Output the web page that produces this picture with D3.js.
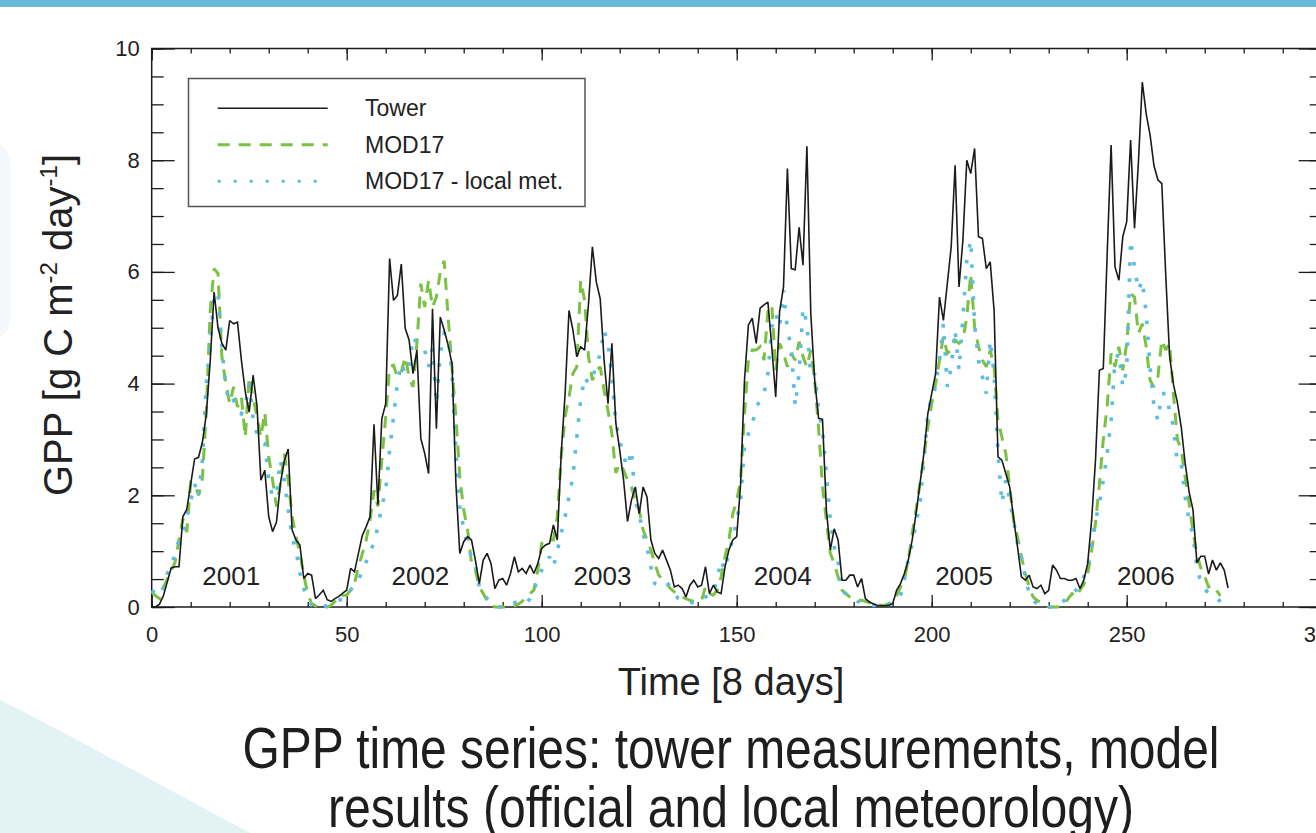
<!DOCTYPE html>
<html>
<head>
<meta charset="utf-8">
<title>GPP time series</title>
<script src="https://cdn.jsdelivr.net/npm/d3@7"></script>
<style>
  html, body { margin: 0; padding: 0; background: #fff; overflow: hidden; }
  svg { display: block; font-family: "Liberation Sans", Arial, Helvetica, sans-serif; }
</style>
</head>
<body>
<svg id="chart" width="1316" height="833"></svg>
<script>
// GPP [g C m-2 day-1], one value per 8-day step (index = time step)
const tower = [
  0.0, 0.0, 0.05, 0.2, 0.45, 0.7, 0.72, 0.72, 1.62, 1.75,
  2.2, 2.65, 2.68, 2.95, 3.45, 4.4, 5.64, 5.0, 4.72, 4.6,
  5.13, 5.07, 5.1, 4.42, 3.85, 3.49, 4.15, 3.6, 2.27, 2.45,
  1.62, 1.35, 1.52, 2.21, 2.62, 2.83, 1.38, 1.2, 1.11, 0.51,
  0.6, 0.57, 0.15, 0.22, 0.3, 0.13, 0.1, 0.15, 0.19, 0.25,
  0.3, 0.69, 0.63, 0.96, 1.28, 1.44, 1.62, 3.27, 1.83, 3.37,
  3.64, 6.24, 5.49, 5.58, 6.14, 4.99, 4.78, 4.18, 4.6, 3.02,
  2.75, 2.39, 5.34, 3.19, 5.19, 4.96, 4.69, 4.36, 2.21, 0.96,
  1.17, 1.26, 1.2, 0.84, 0.42, 0.84, 0.96, 0.78, 0.33, 0.48,
  0.51, 0.39, 0.6, 0.9, 0.63, 0.69, 0.6, 0.75, 0.6, 0.78,
  1.05, 1.11, 1.14, 1.47, 1.2, 2.75, 3.82, 5.31, 4.96, 4.48,
  4.66, 4.6, 5.43, 6.45, 5.82, 5.52, 4.42, 3.64, 4.72, 3.3,
  2.81, 2.27, 1.53, 1.91, 2.15, 1.67, 2.15, 1.97, 1.2, 0.96,
  0.87, 1.02, 0.84, 0.66, 0.36, 0.39, 0.33, 0.18, 0.39, 0.48,
  0.36, 0.39, 0.72, 0.24, 0.39, 0.27, 0.24, 0.72, 1.02, 1.2,
  1.26, 2.2, 4.06, 5.05, 5.17, 4.72, 5.35, 5.41, 5.46, 4.65,
  3.76, 5.29, 5.73, 7.85, 6.06, 6.04, 6.8, 6.12, 8.25, 5.25,
  4.06, 3.38, 3.36, 1.73, 1.02, 1.4, 1.2, 0.48, 0.48, 0.57,
  0.57, 0.36, 0.51, 0.15, 0.09, 0.06, 0.03, 0.02, 0.02, 0.03,
  0.06, 0.3, 0.42, 0.6, 0.84, 1.2, 1.68, 2.21, 2.75, 3.46,
  3.82, 4.18, 5.55, 5.13, 5.79, 6.45, 7.91, 5.73, 6.57, 8.0,
  7.76, 8.21, 6.63, 6.6, 6.06, 6.18, 5.31, 2.69, 2.63, 2.39,
  2.15, 1.59, 1.08, 0.54, 0.48, 0.57, 0.36, 0.33, 0.39, 0.24,
  0.3, 0.75, 0.66, 0.51, 0.51, 0.48, 0.48, 0.51, 0.33, 0.48,
  0.78, 1.55, 2.63, 4.24, 4.27, 6.33, 8.27, 6.09, 5.85, 6.63,
  6.9, 8.36, 6.78, 7.96, 9.4, 8.83, 8.45, 7.9, 7.65, 7.58,
  5.96, 4.49, 3.98, 3.66, 3.21, 2.57, 2.06, 1.74, 0.79, 0.91,
  0.91, 0.59, 0.84, 0.66, 0.79, 0.66, 0.34
];

const mod17 = [
  0.27, 0.2, 0.15, 0.35, 0.5, 0.65, 0.8, 1.2, 1.58, 1.34,
  2.23, 2.2, 2.0, 2.3, 3.5, 5.3, 6.06, 5.97, 4.48, 4.0,
  3.64, 3.94, 3.58, 3.76, 3.04, 4.12, 3.76, 3.4, 3.04, 3.49,
  2.69, 2.27, 1.8, 2.21, 2.75, 2.27, 1.62, 1.26, 0.96, 0.57,
  0.24, 0.06, 0.02, 0.0, 0.0, 0.0, 0.03, 0.1, 0.21, 0.21,
  0.21, 0.3, 0.42, 0.72, 0.95, 1.2, 1.56, 2.09, 1.8, 2.63,
  3.4, 4.3, 4.33, 4.12, 4.21, 4.48, 4.12, 3.94, 4.72, 5.79,
  5.37, 5.85, 5.37, 5.55, 6.0, 6.2, 5.2, 4.3, 3.4, 2.33,
  1.74, 1.38, 0.78, 0.66, 0.36, 0.24, 0.12, 0.03, 0.0, 0.0,
  0.0, 0.0, 0.0, 0.02, 0.05, 0.1, 0.18, 0.24, 0.3, 0.66,
  1.14, 1.2, 1.2, 1.2, 1.62, 2.69, 3.4, 3.76, 4.18, 4.3,
  5.85, 5.49, 4.48, 4.06, 4.24, 4.3, 3.88, 3.52, 3.1, 2.4,
  2.57, 2.45, 2.27, 2.15, 1.91, 1.73, 1.38, 1.2, 1.02, 0.78,
  0.57, 0.5, 0.42, 0.33, 0.27, 0.2, 0.18, 0.15, 0.12, 0.1,
  0.09, 0.12, 0.36, 0.24, 0.21, 0.3, 0.54, 0.9, 1.2, 1.67,
  1.91, 2.27, 3.46, 4.42, 4.6, 4.6, 4.66, 4.42, 5.29, 5.41,
  4.24, 4.72, 4.54, 4.3, 4.54, 4.42, 4.75, 4.48, 4.3, 4.6,
  4.06, 3.2, 2.15, 1.55, 0.96, 0.78, 0.54, 0.3, 0.24, 0.18,
  0.15, 0.12, 0.12, 0.1, 0.08, 0.06, 0.04, 0.03, 0.03, 0.06,
  0.1, 0.2, 0.36, 0.5, 0.84, 1.32, 1.74, 2.21, 2.69, 3.22,
  3.64, 4.0, 4.42, 4.84, 4.54, 4.6, 4.78, 4.72, 4.78, 5.19,
  5.97, 5.01, 4.66, 4.42, 4.3, 4.6, 4.3, 3.34, 3.04, 2.75,
  2.15, 1.55, 1.26, 0.9, 0.6, 0.36, 0.18, 0.12, 0.09, 0.03,
  0.0, 0.0, 0.0, 0.0, 0.05, 0.15, 0.24, 0.18, 0.3, 0.4,
  0.6, 1.0, 1.5, 2.2, 3.0, 3.6, 4.54, 4.3, 4.66, 4.24,
  4.72, 5.61, 5.55, 4.9, 5.07, 4.66, 4.06, 3.94, 4.12, 4.78,
  4.6, 4.72, 3.8, 3.0, 2.82, 2.31, 1.86, 1.35, 0.94, 0.7,
  0.55, 0.36, 0.39, 0.3, 0.2
];

const mod17Local = [
  0.3, 0.25, 0.2, 0.35, 0.6, 0.72, 0.96, 1.2, 1.32, 1.62,
  1.9, 2.21, 1.97, 2.63, 4.0, 4.66, 5.61, 5.61, 4.66, 3.94,
  3.64, 3.7, 3.52, 3.46, 3.61, 4.0, 3.37, 3.1, 2.96, 2.93,
  2.27, 1.97, 2.03, 2.63, 2.27, 1.74, 1.26, 1.02, 0.6, 0.33,
  0.15, 0.03, 0.0, 0.0, 0.0, 0.03, 0.06, 0.1, 0.12, 0.15,
  0.18, 0.3, 0.42, 0.48, 0.65, 0.81, 1.0, 1.14, 1.44, 1.8,
  2.09, 2.81, 3.4, 4.0, 4.36, 4.18, 4.24, 4.84, 4.72, 4.66,
  4.6, 4.3, 4.63, 3.64, 4.54, 4.9, 4.84, 4.2, 2.8, 1.8,
  1.4, 1.1, 0.9, 0.72, 0.36, 0.24, 0.15, 0.08, 0.03, 0.0,
  0.0, 0.03, 0.06, 0.08, 0.09, 0.08, 0.06, 0.15, 0.3, 0.5,
  0.66, 0.8, 0.9, 0.72, 1.0, 1.32, 1.62, 1.97, 2.33, 3.04,
  3.7, 4.12, 4.0, 4.12, 4.3, 4.54, 4.96, 4.72, 4.12, 3.3,
  2.99, 2.69, 2.51, 2.81, 1.91, 1.67, 1.3, 1.08, 0.72, 0.42,
  0.39, 0.42, 0.45, 0.36, 0.25, 0.15, 0.12, 0.12, 0.1, 0.06,
  0.1, 0.15, 0.18, 0.21, 0.24, 0.5, 0.84, 0.66, 1.0, 1.2,
  1.55, 1.91, 2.87, 3.1, 3.28, 3.58, 3.7, 3.82, 4.18, 5.01,
  5.25, 5.01, 5.67, 4.96, 4.65, 3.6, 4.18, 5.35, 5.08, 4.12,
  4.18, 3.52, 3.16, 2.4, 1.55, 1.08, 0.8, 0.27, 0.24, 0.2,
  0.15, 0.1, 0.08, 0.06, 0.04, 0.03, 0.03, 0.03, 0.03, 0.05,
  0.06, 0.12, 0.21, 0.5, 0.84, 1.14, 1.5, 1.86, 2.6, 3.46,
  3.76, 3.94, 4.42, 5.07, 3.94, 4.3, 4.96, 4.24, 5.19, 6.2,
  6.57, 5.07, 4.42, 4.12, 3.82, 4.78, 4.18, 2.75, 1.86, 2.27,
  1.91, 1.55, 1.14, 0.9, 0.54, 0.24, 0.12, 0.06, 0.03, 0.0,
  0.0, 0.0, 0.0, 0.05, 0.12, 0.2, 0.24, 0.3, 0.39, 0.54,
  0.72, 1.14, 1.55, 1.86, 2.27, 2.75, 3.34, 4.42, 4.54, 3.94,
  4.24, 6.57, 6.09, 5.67, 5.85, 5.25, 4.3, 3.58, 3.34, 3.82,
  3.82, 3.52, 3.22, 2.57, 2.57, 1.96, 1.55, 1.29, 0.71, 0.45,
  0.33, 0.24, 0.2, 0.17, 0.1, 0.02
];

const seriesNames = ['Tower', 'MOD17', 'MOD17 - local met.'];
const years = ['2001', '2002', '2003', '2004', '2005', '2006'];
const yearCenters = [20.4, 68.9, 115.6, 161.8, 208.3, 254.9]; // in 8-day steps
const xMajorTicks = [0, 50, 100, 150, 200, 250, 300];
const yMajorTicks = [0, 2, 4, 6, 8, 10];

const W = 1316, H = 833;
const plot = { left: 151.7, right: 1321.7, top: 48.5, bottom: 607 };
const ink = '#1b1b1b';

const svg = d3.select('#chart');

/* page decoration of the slide */
svg.append('rect').attr('x', 0).attr('y', 0).attr('width', W).attr('height', H).attr('fill', '#fff');
svg.append('path')
  .attr('d', 'M0,700 C70,735 160,785 250,833 L0,833 Z')
  .attr('fill', '#e3f2f5');
svg.append('path')
  .attr('d', 'M0,145 Q11,150 11,175 L11,310 Q11,333 0,336 Z')
  .attr('fill', '#f4f8fb');
svg.append('rect').attr('x', 0).attr('y', 0).attr('width', W).attr('height', 7).attr('fill', '#66bbd9');

const x = d3.scaleLinear().domain([0, 300]).range([plot.left, plot.right]);
const y = d3.scaleLinear().domain([0, 10]).range([plot.bottom, plot.top]);

const xMinor = d3.range(0, 301, 10);
const yMinor = d3.range(0, 10.01, 0.5);

function styleAxis(g) {
  g.attr('font-size', 22).attr('font-family', null);
  g.select('.domain').remove();
  g.selectAll('.tick line').attr('stroke', ink).attr('stroke-width', 1.3);
  g.selectAll('.tick text').attr('fill', '#222');
}

// minor ticks, all four sides, pointing inward
svg.append('g').attr('transform', `translate(0,${plot.bottom})`)
  .call(d3.axisBottom(x).tickValues(xMinor).tickSize(-5).tickFormat('')).call(styleAxis);
svg.append('g').attr('transform', `translate(0,${plot.top})`)
  .call(d3.axisTop(x).tickValues(xMinor).tickSize(-5).tickFormat('')).call(styleAxis);
svg.append('g').attr('transform', `translate(${plot.left},0)`)
  .call(d3.axisLeft(y).tickValues(yMinor).tickSize(-12).tickFormat('')).call(styleAxis);
svg.append('g').attr('transform', `translate(${plot.right},0)`)
  .call(d3.axisRight(y).tickValues(yMinor).tickSize(-12).tickFormat('')).call(styleAxis);

// major ticks + labels
svg.append('g').attr('transform', `translate(0,${plot.bottom})`)
  .call(d3.axisBottom(x).tickValues(xMajorTicks).tickSizeInner(-12).tickSizeOuter(0).tickPadding(19).tickFormat(d3.format('d')))
  .call(styleAxis);
svg.append('g').attr('transform', `translate(0,${plot.top})`)
  .call(d3.axisTop(x).tickValues(xMajorTicks).tickSize(-12).tickFormat(''))
  .call(styleAxis);
svg.append('g').attr('transform', `translate(${plot.left},0)`)
  .call(d3.axisLeft(y).tickValues(yMajorTicks).tickSizeInner(-23).tickSizeOuter(0).tickPadding(12).tickFormat(d3.format('d')))
  .call(styleAxis);
svg.append('g').attr('transform', `translate(${plot.right},0)`)
  .call(d3.axisRight(y).tickValues(yMajorTicks).tickSize(-23).tickFormat(''))
  .call(styleAxis);

// frame
svg.append('rect')
  .attr('x', plot.left).attr('y', plot.top)
  .attr('width', plot.right - plot.left).attr('height', plot.bottom - plot.top)
  .attr('fill', 'none').attr('stroke', ink).attr('stroke-width', 1.5);

// series
const line = d3.line().x((d, i) => x(i)).y(d => y(d));
const series = [
  { name: seriesNames[1], values: mod17, color: '#7bc143', width: 3, dash: '12,9' },
  { name: seriesNames[2], values: mod17Local, color: '#5bbde0', width: 3.6, dash: '3.6,12.4' },
  { name: seriesNames[0], values: tower, color: ink, width: 1.6, dash: null }
];

svg.append('g').selectAll('path')
  .data(series)
  .enter()
  .append('path')
  .attr('d', d => line(d.values))
  .attr('fill', 'none')
  .attr('stroke', d => d.color)
  .attr('stroke-width', d => d.width)
  .attr('stroke-dasharray', d => d.dash)
  .attr('stroke-linejoin', 'miter')
  .attr('stroke-miterlimit', 2);

// year labels
svg.append('g').selectAll('text')
  .data(years)
  .enter()
  .append('text')
  .attr('x', (d, i) => x(yearCenters[i]))
  .attr('y', y(0.4))
  .attr('text-anchor', 'middle')
  .attr('font-size', 26)
  .attr('fill', '#222')
  .text(d => d);

// legend
const legend = svg.append('g');
legend.append('rect')
  .attr('x', 188.5).attr('y', 78.5).attr('width', 396.5).attr('height', 128)
  .attr('fill', '#fff').attr('stroke', '#555').attr('stroke-width', 1.5);
const legendRows = [series[2], series[0], series[1]];
legendRows.forEach((s, i) => {
  const ly = 108.3 + i * 36.5;
  legend.append('line')
    .attr('x1', 217.7).attr('x2', 327.7).attr('y1', ly).attr('y2', ly)
    .attr('stroke', s.color)
    .attr('stroke-width', i === 0 ? 1.6 : 3)
    .attr('stroke-dasharray', i === 2 ? '3,13' : s.dash);
  legend.append('text')
    .attr('x', 365).attr('y', ly).attr('dy', '0.35em')
    .attr('font-size', 23).attr('fill', '#222')
    .text(s.name);
});

// axis titles
svg.append('text')
  .attr('x', 731).attr('y', 695)
  .attr('text-anchor', 'middle')
  .attr('font-size', 38).attr('fill', '#222')
  .text('Time [8 days]');

const yTitle = svg.append('text')
  .attr('transform', 'translate(72,325) rotate(-90)')
  .attr('text-anchor', 'middle')
  .attr('font-size', 40).attr('fill', '#222');
yTitle.append('tspan').text('GPP [g C m');
yTitle.append('tspan').attr('font-size', 24).attr('dy', -15).text('-2');
yTitle.append('tspan').attr('dy', 15).text(' day');
yTitle.append('tspan').attr('font-size', 24).attr('dy', -15).text('-1');
yTitle.append('tspan').attr('dy', 15).text(']');

// slide caption
const caption = ['GPP time series: tower measurements, model', 'results (official and local meteorology)'];
const captionWidth = [977, 806];
svg.append('g').selectAll('text')
  .data(caption)
  .enter()
  .append('text')
  .attr('x', 731).attr('y', (d, i) => 768 + i * 59)
  .attr('text-anchor', 'middle')
  .attr('font-family', '"Liberation Sans Narrow", "Arial Narrow", "Liberation Sans", Arial, sans-serif')
  .attr('font-size', 58).attr('fill', '#1e1e1e')
  .attr('textLength', (d, i) => captionWidth[i])
  .attr('lengthAdjust', 'spacingAndGlyphs')
  .text(d => d);
</script>
</body>
</html>
